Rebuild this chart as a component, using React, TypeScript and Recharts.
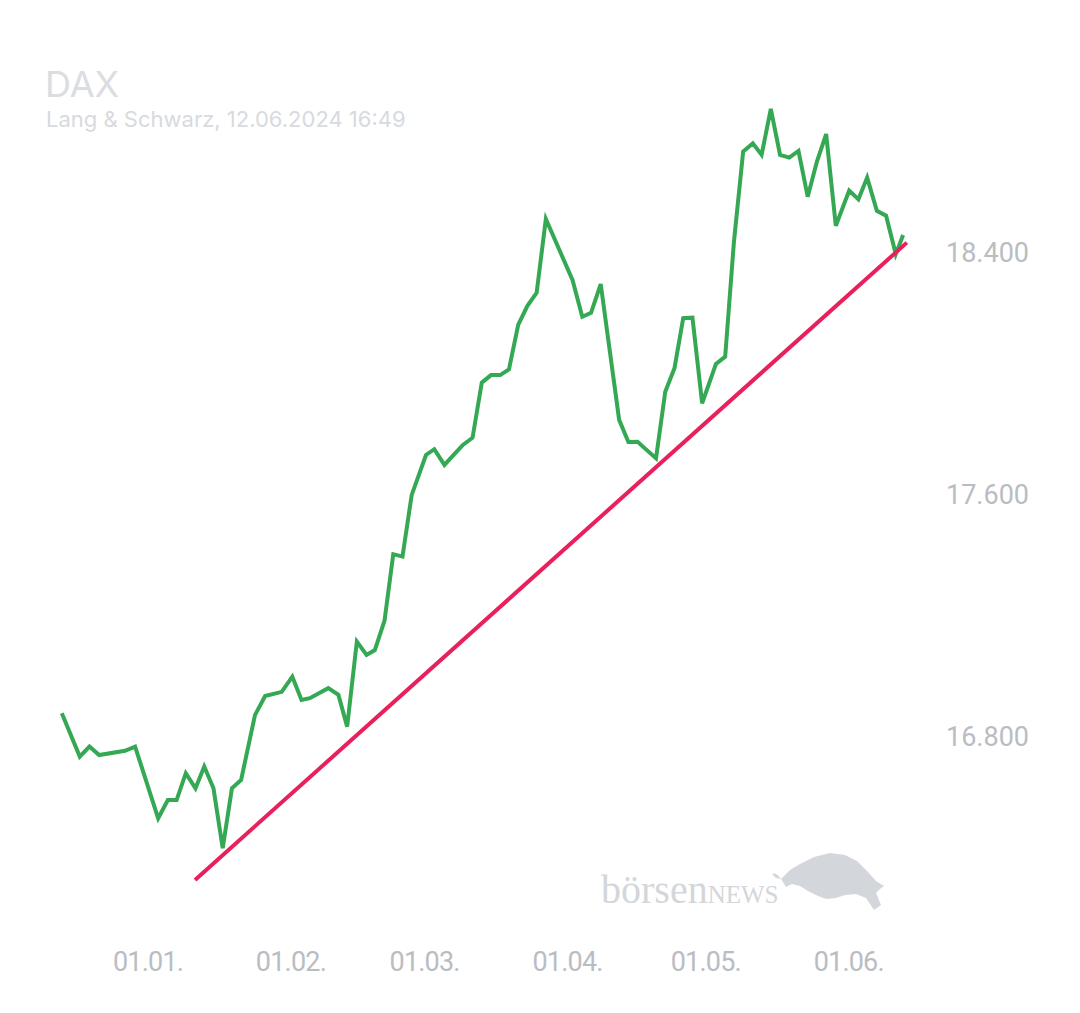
import { LineChart, Line, XAxis, YAxis } from "recharts";

// days counted from 01.01.2024 (0 = 1 Jan), values in index points
const days = [
   -18.7, -14.8, -12.7, -10.6, -5.0, -2.8, 2.2, 4.3, 6.2, 8.2, 10.3, 12.2, 14.2, 16.2, 18.2, 20.2,
   23.2, 25.4, 29.0, 31.3, 33.3, 35.1, 39.1, 41.3, 43.2, 45.3, 47.4, 49.2, 51.3, 53.2, 55.2, 57.2,
   60.3, 62.1, 64.3, 66.3, 68.3, 70.4, 72.4, 74.4, 76.4, 78.3, 80.3, 82.3, 84.3, 86.3, 92.1, 94.2,
   96.1, 98.2, 102.2, 104.2, 106.2, 108.2, 110.2, 112.2, 114.2, 116.1, 118.1, 120.2, 123.2, 125.2,
   127.1, 129.1, 131.2, 133.1, 135.1, 137.1, 139.1, 141.1, 143.1, 145.1, 147.1, 149.2, 152.1, 154.1,
   156.0, 158.1, 160.1, 162.2, 163.8,
];
const closes = [
   16875, 16732, 16765, 16737, 16751, 16765, 16528, 16588, 16588, 16677, 16627, 16699, 16627, 16429, 16627, 16655,
   16869, 16932, 16946, 16996, 16919, 16925, 16958, 16936, 16831, 17112, 17068, 17084, 17181, 17401, 17393, 17597,
   17729, 17748, 17696, 17729, 17762, 17786, 17968, 17993, 17993, 18012, 18159, 18222, 18265, 18509, 18307, 18186,
   18199, 18294, 17845, 17772, 17773, 17745, 17718, 17938, 18016, 18181, 18183, 17900, 18030, 18054,
   18434, 18732, 18759, 18721, 18873, 18721, 18712, 18734, 18583, 18699, 18790, 18487, 18603, 18574,
   18646, 18536, 18520, 18393, 18456,
];

// support line
const trendDays = [10.2, 164.6];
const trendValues = [16324, 18431];

const monthTicks = [0, 31, 60, 91, 121, 152];
const monthLabels = ["01.01.", "01.02.", "01.03.", "01.04.", "01.05.", "01.06."];
const priceTicks = [16800, 17600, 18400];

const priceData = days.map((day, i) => ({ day, close: closes[i] }));
const trendData = trendDays.map((day, i) => ({ day, close: trendValues[i] }));

const fmtPrice = (v: number) =>
   `${Math.floor(v / 1000)}.${String(Math.round(v % 1000)).padStart(3, "0")}`;

const fmtMonth = (v: number) => {
   const idx = monthTicks.indexOf(v);
   return idx >= 0 ? monthLabels[idx] : "";
};

const tickStyle = { fill: "#b9bdc3", fontSize: 27, fontFamily: "Roboto" };

export default function App() {
   return (
      <div style={{ position: "fixed", left: 0, top: 0, width: 1080, height: 1013, background: "#fff" }}>
         <LineChart width={1080} height={1013} data={priceData} margin={{ top: 60, right: 0, bottom: 0, left: 40 }}>
            <XAxis
               type="number"
               dataKey="day"
               domain={[-23.43, 167.46]}
               allowDataOverflow
               ticks={monthTicks}
               tickFormatter={fmtMonth}
               axisLine={false}
               tickLine={false}
               height={93}
               tickMargin={26}
               tick={{ ...tickStyle, letterSpacing: -0.8 }}
               interval={0}
            />
            <YAxis
               orientation="right"
               domain={[16191.7, 19034.7]}
               allowDataOverflow
               ticks={priceTicks}
               tickFormatter={fmtPrice}
               axisLine={false}
               tickLine={false}
               width={160}
               tickMargin={20}
               tick={tickStyle}
            />
            <Line
               type="linear"
               dataKey="close"
               stroke="#34a853"
               strokeWidth={4}
               dot={false}
               isAnimationActive={false}
            />
            <Line
               type="linear"
               data={trendData}
               dataKey="close"
               stroke="#e8215d"
               strokeWidth={4}
               dot={false}
               isAnimationActive={false}
            />
         </LineChart>
         <svg width={1080} height={1013} style={{ position: "absolute", left: 0, top: 0, pointerEvents: "none" }}>
            <text x={45} y={97} fill="#dadde1" fontSize={36} fontFamily="Inter">DAX</text>
            <text x={46} y={127} fill="#d7dade" fontSize={22} fontFamily="Inter">
               Lang &amp; Schwarz, 12.06.2024 16:49
            </text>
            <text x={601} y={903} fill="#d3d6da" fontFamily="Liberation Serif">
               <tspan fontSize={40}>börsen</tspan>
               <tspan fontSize={25}>NEWS</tspan>
            </text>
            <path
               d="M781 879 L790 870 L800 864 L814 857 L830 853 L845 855 L857 861 L867 871 L876 881 L884 886 L880 889 L876 893 L881 905 L874 910 L866 898 L856 894 L845 895 L836 898 L826 899 L818 896 L808 891 L800 886 L792 884 L786 887 Z M781 879 Q776 872 772 874 L776 878 Z"
               fill="#d3d6da"
            />
         </svg>
      </div>
   );
}
